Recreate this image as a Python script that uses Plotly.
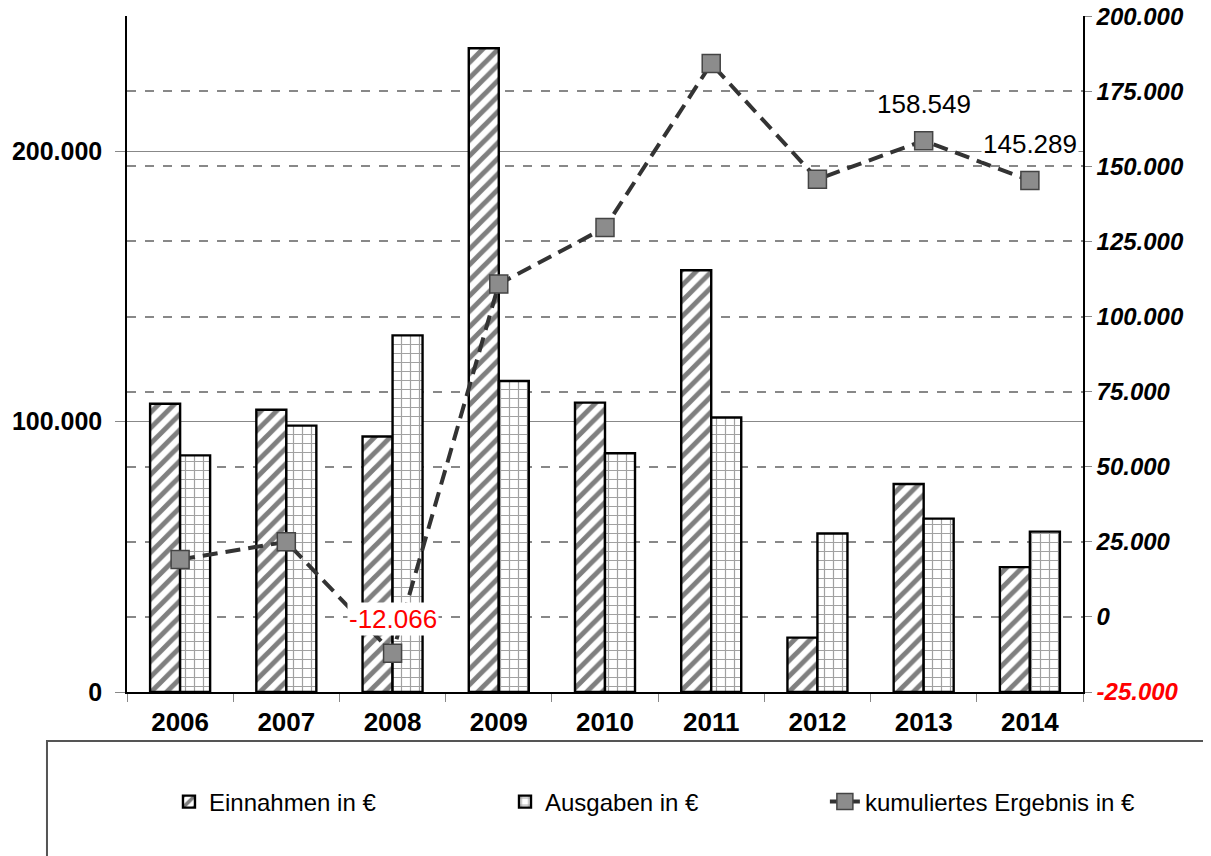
import plotly.graph_objects as go

years = ["2006", "2007", "2008", "2009", "2010", "2011", "2012", "2013", "2014"]
einnahmen = [106600, 104400, 94500, 238100, 107000, 156000, 20100, 76900, 46200]
ausgaben = [87500, 98500, 131900, 115000, 88300, 101500, 58600, 64100, 59300]
kumuliert = [19100, 25000, -12066, 110800, 129600, 184200, 145700, 158549, 145289]

left_ticks = [0, 100000, 200000]
right_ticks = [-25000, 0, 25000, 50000, 75000, 100000, 125000, 150000, 175000, 200000]


def de_fmt(v):
    s = f"{abs(v):,}".replace(",", ".")
    return ("-" if v < 0 else "") + s


FONT = "Liberation Sans, Arial, sans-serif"

fig = go.Figure()
fig.add_trace(go.Bar(
    x=years, y=einnahmen, name="Einnahmen in €", legend="legend",
    marker=dict(color="white", line=dict(color="black", width=2.4),
                pattern=dict(shape="/", fgcolor="black", bgcolor="white", size=11, solidity=0.45)),
))
fig.add_trace(go.Bar(
    x=years, y=ausgaben, name="Ausgaben in €", legend="legend2",
    marker=dict(color="white", line=dict(color="black", width=2.4),
                pattern=dict(shape="+", fgcolor="#444", bgcolor="white", size=9, solidity=0.25)),
))
fig.add_trace(go.Scatter(
    x=years, y=kumuliert, name="kumuliertes Ergebnis in €", yaxis="y2", legend="legend3",
    mode="lines+markers",
    line=dict(color="#333333", width=4, dash="15px,8px"),
    marker=dict(symbol="square", size=18, color="#8c8c8c", line=dict(color="#444", width=1.5)),
))

# data labels (x given as category index)
labels = {2: ("red", 34), 7: ("black", 37), 8: ("black", 36)}
for i, (col, shift) in labels.items():
    fig.add_annotation(x=i, y=kumuliert[i], yref="y2", xref="x",
                       text=de_fmt(kumuliert[i]), showarrow=False, yshift=shift,
                       font=dict(family=FONT, size=26, color=col), bgcolor="white", borderpad=1)

# legend box
fig.add_shape(type="rect", xref="paper", yref="paper", x0=-0.0837, x1=1.3, y0=-0.4, y1=-0.0725,
              line=dict(color="#555", width=2), fillcolor="rgba(0,0,0,0)")

right_text = []
for v in right_ticks:
    t = de_fmt(v)
    if v < 0:
        t = f'<span style="color:red">{t}</span>'
    right_text.append(t)

legend_common = dict(orientation="h", y=-0.1627, xanchor="left", yanchor="middle",
                     font=dict(family=FONT, size=24), bgcolor="rgba(0,0,0,0)")

fig.update_layout(
    width=1203, height=848,
    margin=dict(l=119, r=128, t=8, b=164),
    paper_bgcolor="white", plot_bgcolor="white",
    barmode="group", bargap=0.435, bargroupgap=0,
    font=dict(family=FONT, size=22, color="black"),
    showlegend=True,
    legend=dict(x=0.0439, **legend_common),
    legend2=dict(x=0.3954, **legend_common),
    legend3=dict(x=0.730, **legend_common),
    xaxis=dict(type="category", range=[-0.5, 8.5], showline=True, linecolor="black", linewidth=1.5,
               ticks="outside", tickson="boundaries", ticklen=8, tickcolor="#888",
               tickfont=dict(family=FONT, size=26, weight="bold"), tickangle=0,
               ticklabelstandoff=6, showgrid=False, automargin=False),
    yaxis=dict(range=[0, 250000], tickvals=left_ticks, ticktext=[de_fmt(v) for v in left_ticks],
               showline=True, linecolor="black", linewidth=1.5, ticks="outside", ticklen=10,
               tickcolor="#888", showgrid=True, gridcolor="#888", gridwidth=1,
               tickfont=dict(family=FONT, size=25, weight="bold"), ticklabelstandoff=8,
               zeroline=False, automargin=False),
    yaxis2=dict(range=[-25000, 200050], tickvals=right_ticks, ticktext=right_text,
                overlaying="y", side="right", showline=True, linecolor="black", linewidth=1.5,
                ticks="outside", ticklen=7, tickcolor="#888",
                showgrid=True, gridcolor="#888", gridwidth=1.5, griddash="dash",
                tickfont=dict(family=FONT, size=24, weight="bold", style="italic"),
                ticklabeloverflow="allow", zeroline=False, automargin=False),
)

fig.write_html("out.html")
